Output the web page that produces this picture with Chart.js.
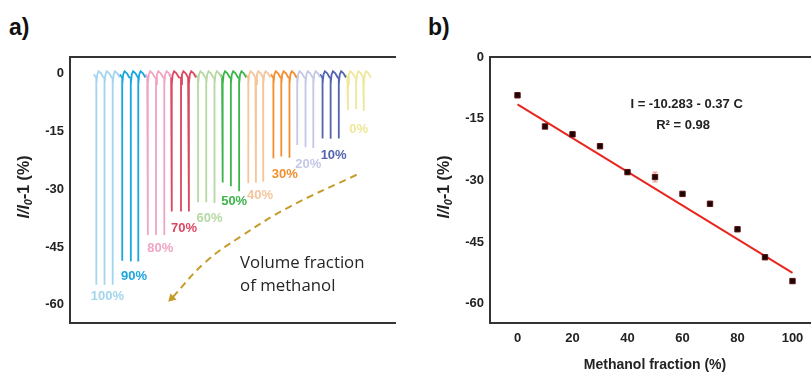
<!DOCTYPE html>
<html>
<head>
<meta charset="utf-8">
<script src="https://cdn.jsdelivr.net/npm/chart.js@4.4.1/dist/chart.umd.min.js"></script>
<style>
html, body { margin:0; padding:0; background:#fff; width:811px; height:376px; overflow:hidden; }
.panel { position:absolute; top:0; }
#wrapA { left:0; }
#wrapB { left:420px; }
.tag { position:absolute; top:16px; font:bold 23px "Liberation Sans", Arial, sans-serif; line-height:1; color:#111; }
</style>
</head>
<body>
<div class="tag" style="left:9px">a)</div>
<div class="tag" style="left:428px">b)</div>
<div class="panel" id="wrapA"><canvas id="chartA" width="400" height="376"></canvas></div>
<div class="panel" id="wrapB"><canvas id="chartB" width="410" height="376"></canvas></div>
<script>
// ---- panel a: response traces, 3 injections per methanol fraction ----
var groupLabels = ['100%','90%','80%','70%','60%','50%','40%','30%','20%','10%','0%'];
var groupColors = ['#a3d5ef','#1ca5de','#eea6c4','#dc4862','#b6d9a3','#3db54c','#f3c69c','#f28f30','#c4c8e6','#5465b0','#efe79a'];
// spike times (arbitrary time units) and spike minima (%)
var spikeTimes = [
  [26.7, 35.0, 43.3], [53.0, 61.7, 69.3], [79.0, 87.3, 95.7], [103.3, 112.7, 120.7],
  [130.0, 138.3, 146.7], [155.0, 163.3, 171.7], [181.0, 188.8, 196.2], [206.5, 214.5, 222.8],
  [230.7, 239.1, 247.0], [256.4, 264.6, 272.9], [282.2, 290.5, 298.3]
];
var spikeDepths = [
  [-54.8, -54.8, -54.8], [-48.6, -48.8, -48.8], [-41.9, -41.9, -41.9], [-35.8, -35.8, -35.8],
  [-33.4, -33.4, -33.6], [-28.3, -29.3, -30.6], [-28.5, -28.3, -28.1], [-22.0, -21.6, -21.9],
  [-18.6, -19.2, -19.4], [-16.9, -17.0, -16.9], [-9.5, -9.3, -9.8]
];
// shape of the signal right before / after each spike
var leadIn = [[-2.5, -0.3], [-0.6, -1.0]];
var preSpike = -1.2;
var recovery = [[0.1, -2.8], [1.0, -0.3], [2.4, 0.5], [4.8, 0.0], [7.2, -1.1]];
// label anchors (time, value) for each fraction
var labelX = [38, 65, 91.7, 115.7, 141.7, 166.7, 193, 218, 242, 267.7, 293];
var labelY = [-57.9, -52.7, -45.5, -40.1, -37.5, -33.3, -31.7, -26.3, -23.5, -21.4, -14.5];
// dashed arrow path
var arrowX = [291, 223, 173.3, 136.7, 103.3];
var arrowY = [-26.3, -34.6, -42.3, -49.1, -58.3];
var yTicksA = [-60, -45, -30, -15, 0];

// ---- panel b: linear fit ----
var fractions = [0, 10, 20, 30, 40, 50, 60, 70, 80, 90, 100];
var response  = [-9.3, -16.9, -18.8, -21.7, -28.0, -29.2, -33.3, -35.7, -41.9, -48.7, -54.5];
var respErr   = [0.6, 0.4, 0.5, 0.4, 0.5, 1.2, 0.4, 0.4, 0.5, 0.5, 0.4];
var fitX = [0, 100];
var fitY = [-11.5, -52.5];
var xTicksB = [0, 20, 40, 60, 80, 100];
var yTicksB = [-60, -45, -30, -15, 0];

var AX = '#333';
var FONT = '"Liberation Sans", Arial, sans-serif';
Chart.defaults.font.family = FONT;
Chart.defaults.animation = false;

function drawYTitle(ctx, cx, cy) {
  var segs = [
    {t: 'I/I', f: 'italic bold 16px ' + FONT, dy: 0},
    {t: '0', f: 'italic bold 11px ' + FONT, dy: 4},
    {t: '-1 (%)', f: 'bold 16px ' + FONT, dy: 0}
  ];
  ctx.save();
  ctx.translate(cx, cy);
  ctx.rotate(-Math.PI / 2);
  var w = 0;
  segs.forEach(function(s) { ctx.font = s.f; w += ctx.measureText(s.t).width; });
  var x = -w / 2;
  ctx.textBaseline = 'middle';
  ctx.fillStyle = '#222';
  segs.forEach(function(s) { ctx.font = s.f; ctx.fillText(s.t, x, s.dy); x += ctx.measureText(s.t).width; });
  ctx.restore();
}

function frameScales(xmin, xmax, ymin, ymax, yTicks, xTicks, xHeight) {
  return {
    x: {
      type: 'linear', position: 'bottom', min: xmin, max: xmax,
      afterBuildTicks: function(s) { s.ticks = (xTicks || []).map(function(v) { return {value: v}; }); },
      ticks: {display: !!xTicks, padding: 8, color: '#222', font: {size: 13, weight: 'bold'}},
      grid: {display: false, drawTicks: false},
      border: {display: true, color: AX, width: 2},
      afterFit: function(s) { s.height = xHeight; }
    },
    xTop: {
      type: 'linear', position: 'top', min: xmin, max: xmax,
      ticks: {display: false},
      grid: {display: false, drawTicks: false},
      border: {display: true, color: AX, width: 2},
      afterFit: function(s) { s.height = 0; }
    },
    y: {
      min: ymin, max: ymax,
      afterBuildTicks: function(s) { s.ticks = yTicks.map(function(v) { return {value: v}; }); },
      ticks: {padding: 6, color: '#222', font: {size: 13, weight: 'bold'}},
      grid: {display: false, drawTicks: false},
      border: {display: true, color: AX, width: 2},
      afterFit: function(s) { s.width = 70; }
    }
  };
}

// build trace datasets
var traceSets = groupLabels.map(function(lab, g) {
  var pts = [];
  var first = spikeTimes[g][0];
  leadIn.forEach(function(p) { pts.push({x: first + p[0], y: p[1]}); });
  spikeTimes[g].forEach(function(t, i) {
    pts.push({x: t, y: preSpike});
    pts.push({x: t, y: spikeDepths[g][i]});
    recovery.forEach(function(p) { pts.push({x: t + p[0], y: p[1]}); });
  });
  return {label: lab, data: pts, borderColor: groupColors[g], borderWidth: 1.8,
          pointRadius: 0, tension: 0, fill: false};
});

var arrowSet = {
  label: 'arrow',
  data: arrowX.map(function(x, i) { return {x: x, y: arrowY[i]}; }),
  borderColor: '#c59c2a', borderWidth: 2, borderDash: [7, 5], tension: 0.4, fill: false,
  pointStyle: 'triangle', rotation: 225,
  pointRadius: arrowX.map(function(v, i) { return i === arrowX.length - 1 ? 5 : 0; }),
  pointBackgroundColor: '#c59c2a', pointBorderColor: '#c59c2a', pointBorderWidth: 0
};

var panelAText = {
  id: 'panelAText',
  afterDatasetsDraw: function(chart) {
    var ctx = chart.ctx, xs = chart.scales.x, ys = chart.scales.y;
    ctx.save();
    ctx.textAlign = 'center';
    ctx.textBaseline = 'middle';
    ctx.font = 'bold 13px ' + FONT;
    groupLabels.forEach(function(lab, g) {
      ctx.fillStyle = groupColors[g];
      ctx.fillText(lab, xs.getPixelForValue(labelX[g]), ys.getPixelForValue(labelY[g]));
    });
    ctx.textAlign = 'left';
    ctx.fillStyle = '#262626';
    ctx.font = '16.8px "Open Sans", sans-serif';
    ctx.fillText('Volume fraction', xs.getPixelForValue(172.7), ys.getPixelForValue(-49.1));
    ctx.fillText('of methanol', xs.getPixelForValue(172.7), ys.getPixelForValue(-55.3));
    ctx.restore();
    drawYTitle(ctx, 25, 187);
  }
};

new Chart(document.getElementById('chartA'), {
  type: 'line',
  data: {datasets: traceSets.concat([arrowSet])},
  options: {
    responsive: false,
    layout: {padding: {top: 57, right: 0, bottom: 0, left: 0}},
    plugins: {legend: {display: false}, tooltip: {enabled: false}},
    scales: frameScales(0, 330, -64.7, 4.2, yTicksA, null, 53)
  },
  plugins: [panelAText]
});

var panelBText = {
  id: 'panelBText',
  beforeDatasetsDraw: function(chart) {
    var ctx = chart.ctx, xs = chart.scales.x, ys = chart.scales.y;
    ctx.save();
    ctx.strokeStyle = '#f08a8a';
    ctx.lineWidth = 1;
    fractions.forEach(function(f, i) {
      var px = xs.getPixelForValue(f);
      var top = ys.getPixelForValue(response[i] + respErr[i]);
      var bot = ys.getPixelForValue(response[i] - respErr[i]);
      ctx.beginPath();
      ctx.moveTo(px, top); ctx.lineTo(px, bot);
      ctx.moveTo(px - 2.5, top); ctx.lineTo(px + 2.5, top);
      ctx.moveTo(px - 2.5, bot); ctx.lineTo(px + 2.5, bot);
      ctx.stroke();
    });
    ctx.restore();
  },
  afterDatasetsDraw: function(chart) {
    var ctx = chart.ctx, xs = chart.scales.x, ys = chart.scales.y, area = chart.chartArea;
    ctx.save();
    ctx.fillStyle = '#222';
    ctx.textAlign = 'center';
    ctx.textBaseline = 'middle';
    ctx.font = 'bold 13px ' + FONT;
    ctx.fillText('I = -10.283 - 0.37 C', xs.getPixelForValue(61.5), ys.getPixelForValue(-11.5));
    ctx.fillText('R\u00b2 = 0.98', xs.getPixelForValue(60.2), ys.getPixelForValue(-16.6));
    ctx.font = 'bold 14px ' + FONT;
    ctx.fillText('Methanol fraction (%)', xs.getPixelForValue(50), area.bottom + 42);
    ctx.restore();
    drawYTitle(ctx, 25, 187);
  }
};

new Chart(document.getElementById('chartB'), {
  type: 'scatter',
  data: {
    datasets: [
      {
        label: 'measured',
        data: fractions.map(function(f, i) { return {x: f, y: response[i]}; }),
        pointStyle: 'rect', pointRadius: 3.8,
        pointBackgroundColor: '#1c0404', pointBorderColor: '#5a1010', pointBorderWidth: 1
      },
      {
        label: 'fit',
        type: 'line',
        data: fitX.map(function(x, i) { return {x: x, y: fitY[i]}; }),
        borderColor: '#e8261f', borderWidth: 2, pointRadius: 0, fill: false, order: 1
      }
    ]
  },
  options: {
    responsive: false,
    layout: {padding: {top: 57, right: 10, bottom: 0, left: 0}},
    plugins: {legend: {display: false}, tooltip: {enabled: false}},
    scales: frameScales(-10, 110, -64.7, 0, yTicksB, xTicksB, 53)
  },
  plugins: [panelBText]
});
</script>
</body>
</html>
